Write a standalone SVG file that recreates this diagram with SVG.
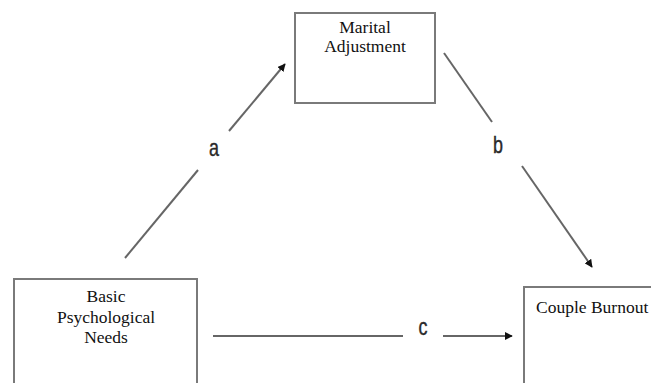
<svg xmlns="http://www.w3.org/2000/svg" width="651" height="383" viewBox="0 0 651 383">
<style>
.box{fill:#fff;stroke:#7a7a7a;stroke-width:2}
.nt{font-family:"Liberation Serif",serif;font-size:17.5px;fill:#111;text-anchor:middle}
.ln{stroke:#666;stroke-width:2;fill:none}
.lbl{font-family:"Liberation Sans",Arial,sans-serif;font-size:23px;fill:#2a2a2a;stroke:#2a2a2a;stroke-width:0.4;text-anchor:middle}
</style>
<defs>
<marker id="ah" viewBox="0 0 10 10" refX="9" refY="5" markerWidth="4" markerHeight="4" orient="auto" markerUnits="strokeWidth">
<path d="M0,0 L10,5 L0,10 z" fill="#111"/>
</marker>
</defs>
<rect width="651" height="383" fill="#fff"/>
<g id="connectors">
<line class="ln" x1="125" y1="258" x2="198" y2="170"/>
<line class="ln" x1="229" y1="131" x2="285" y2="64" marker-end="url(#ah)"/>
<text class="lbl" transform="translate(214,156) scale(0.78,1)">a</text>
<line class="ln" x1="444" y1="53" x2="492" y2="122"/>
<line class="ln" x1="522" y1="166" x2="592" y2="267" marker-end="url(#ah)"/>
<text class="lbl" transform="translate(498,153) scale(0.78,1)">b</text>
<line class="ln" x1="213" y1="336" x2="403" y2="336"/>
<line class="ln" x1="443" y1="336" x2="512" y2="336" marker-end="url(#ah)"/>
<text class="lbl" transform="translate(423,335) scale(0.78,1)">c</text>
</g>
<g id="marital">
<rect class="box" x="295" y="13" width="140" height="90"/>
<text class="nt" x="365" y="33">Marital</text>
<text class="nt" x="365" y="52">Adjustment</text>
</g>
<g id="basic">
<rect class="box" x="14" y="279" width="183" height="110"/>
<text class="nt" x="106" y="302">Basic</text>
<text class="nt" x="106" y="323">Psychological</text>
<text class="nt" x="106" y="343">Needs</text>
</g>
<g id="burnout">
<rect class="box" x="524" y="287" width="140" height="110"/>
<text class="nt" x="536" y="313" style="text-anchor:start">Couple Burnout</text>
</g>
</svg>
